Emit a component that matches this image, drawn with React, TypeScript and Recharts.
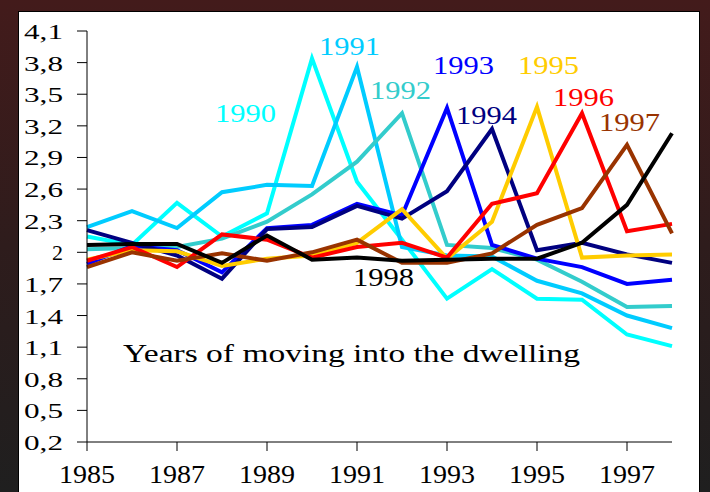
import React from "react";
import { LineChart, Line, XAxis, YAxis } from "recharts";

// survey years on the x axis
const years = [1985, 1986, 1987, 1988, 1989, 1990, 1991, 1992, 1993, 1994, 1995, 1996, 1997, 1998];
const xTicks = [1985, 1987, 1989, 1991, 1993, 1995, 1997];
const yTicks = [0.2, 0.5, 0.8, 1.1, 1.4, 1.7, 2, 2.3, 2.6, 2.9, 3.2, 3.5, 3.8, 4.1];

// one line per year of moving into the dwelling
const cohorts = ["1990", "1991", "1992", "1993", "1994", "1995", "1996", "1997", "1998"];
const colors = ["#00ffff", "#00ccff", "#33cccc", "#0000ff", "#000080", "#ffcc00", "#ff0000", "#993300", "#000000"];

const s1990 = [2.15, 2.07, 2.47, 2.15, 2.37, 3.84, 2.67, 2.12, 1.56, 1.84, 1.56, 1.55, 1.22, 1.11];
const s1991 = [2.24, 2.39, 2.23, 2.57, 2.64, 2.63, 3.76, 2.05, 1.97, 1.96, 1.73, 1.61, 1.4, 1.28];
const s1992 = [2.03, 2.04, 2.05, 2.13, 2.29, 2.55, 2.86, 3.32, 2.07, 2.04, 1.93, 1.72, 1.48, 1.49];
const s1993 = [1.89, 2.06, 2.02, 1.81, 2.23, 2.26, 2.46, 2.35, 3.37, 2.07, 1.94, 1.86, 1.7, 1.74];
const s1994 = [2.21, 2.09, 1.97, 1.75, 2.22, 2.24, 2.44, 2.32, 2.58, 3.17, 2.02, 2.09, 1.98, 1.9];
const s1995 = [1.93, 2.02, 2.01, 1.87, 1.94, 1.97, 2.09, 2.41, 1.94, 2.29, 3.38, 1.95, 1.97, 1.98];
const s1996 = [1.92, 2.05, 1.86, 2.17, 2.12, 1.95, 2.05, 2.09, 1.95, 2.46, 2.56, 3.32, 2.2, 2.27];
const s1997 = [1.86, 2.0, 1.92, 1.99, 1.92, 2.0, 2.12, 1.9, 1.9, 1.99, 2.26, 2.42, 3.02, 2.18];
const s1998 = [2.07, 2.08, 2.08, 1.9, 2.16, 1.93, 1.95, 1.92, 1.93, 1.94, 1.94, 2.09, 2.45, 3.13];

const seriesValues = [s1990, s1991, s1992, s1993, s1994, s1995, s1996, s1997, s1998];

const data = years.map((year, i) => {
  const row: Record<string, number> = { year };
  cohorts.forEach((c, k) => {
    row["c" + c] = seriesValues[k][i];
  });
  return row;
});

// where each cohort name sits (left, baseline)
const labelSpots: [number, number][] = [
  [215, 122],
  [319, 55],
  [370, 99],
  [433, 74],
  [456, 124],
  [518, 74],
  [553, 106],
  [599, 131],
  [353, 286],
];

const serifStyle = { fontFamily: '"Liberation Serif", "Times New Roman", Times, serif' };

const XTick = (props: any) => {
  const { x, y, payload } = props;
  return (
    <text
      x={x}
      y={y}
      dy={30}
      textAnchor="middle"
      style={serifStyle}
      fontSize={25}
      fill="#000"
      textLength={56}
      lengthAdjust="spacingAndGlyphs"
    >
      {payload.value}
    </text>
  );
};

const YTick = (props: any) => {
  const { x, y, payload } = props;
  const txt = String(payload.value).replace(".", ",");
  const extra = txt.length > 1 ? { textLength: 39, lengthAdjust: "spacingAndGlyphs" } : {};
  return (
    <text x={x} y={y} dy={8} textAnchor="end" style={serifStyle} fontSize={22} fill="#000" {...extra}>
      {txt}
    </text>
  );
};

export default function App() {
  return (
    <div
      style={{
        position: "absolute",
        left: 0,
        top: 0,
        width: 710,
        height: 492,
        overflow: "hidden",
        background: "linear-gradient(to bottom, #431b1b 0%, #2e1c1c 50%, #1f1f1f 100%)",
      }}
    >
      <div
        style={{
          position: "absolute",
          left: 18,
          top: 11,
          width: 680,
          height: 490,
          background: "#fff",
          border: "1px solid #000",
        }}
      />
      <div style={{ position: "absolute", left: 0, top: 0 }}>
        <LineChart width={710} height={492} data={data} margin={{ top: 31, right: 38, bottom: 0, left: 20 }}>
          <XAxis
            dataKey="year"
            type="number"
            domain={[1985, 1998]}
            ticks={xTicks}
            height={50}
            tickSize={9}
            tickMargin={2}
            axisLine={{ stroke: "#000", strokeWidth: 1 }}
            tickLine={{ stroke: "#000", strokeWidth: 1 }}
            tick={XTick}
            interval={0}
          />
          <YAxis
            type="number"
            domain={[0.2, 4.1]}
            ticks={yTicks}
            width={67}
            tickSize={10}
            tickMargin={14}
            axisLine={{ stroke: "#000", strokeWidth: 1 }}
            tickLine={{ stroke: "#000", strokeWidth: 1 }}
            tick={YTick}
            interval={0}
            allowDataOverflow
          />
          {cohorts.map((c, k) => (
            <Line
              key={c}
              type="linear"
              dataKey={"c" + c}
              stroke={colors[k]}
              strokeWidth={4}
              dot={false}
              activeDot={false}
              isAnimationActive={false}
            />
          ))}
        </LineChart>
      </div>
      <svg width={710} height={492} style={{ position: "absolute", left: 0, top: 0, pointerEvents: "none" }}>
        {cohorts.map((c, k) => (
          <text
            key={c}
            x={labelSpots[k][0]}
            y={labelSpots[k][1]}
            style={serifStyle}
            fontSize={25}
            fill={colors[k]}
            textLength={61}
            lengthAdjust="spacingAndGlyphs"
          >
            {c}
          </text>
        ))}
        <text
          x={123}
          y={362}
          style={serifStyle}
          fontSize={25}
          fill="#000"
          textLength={457}
          lengthAdjust="spacingAndGlyphs"
        >
          Years of moving into the dwelling
        </text>
      </svg>
    </div>
  );
}
